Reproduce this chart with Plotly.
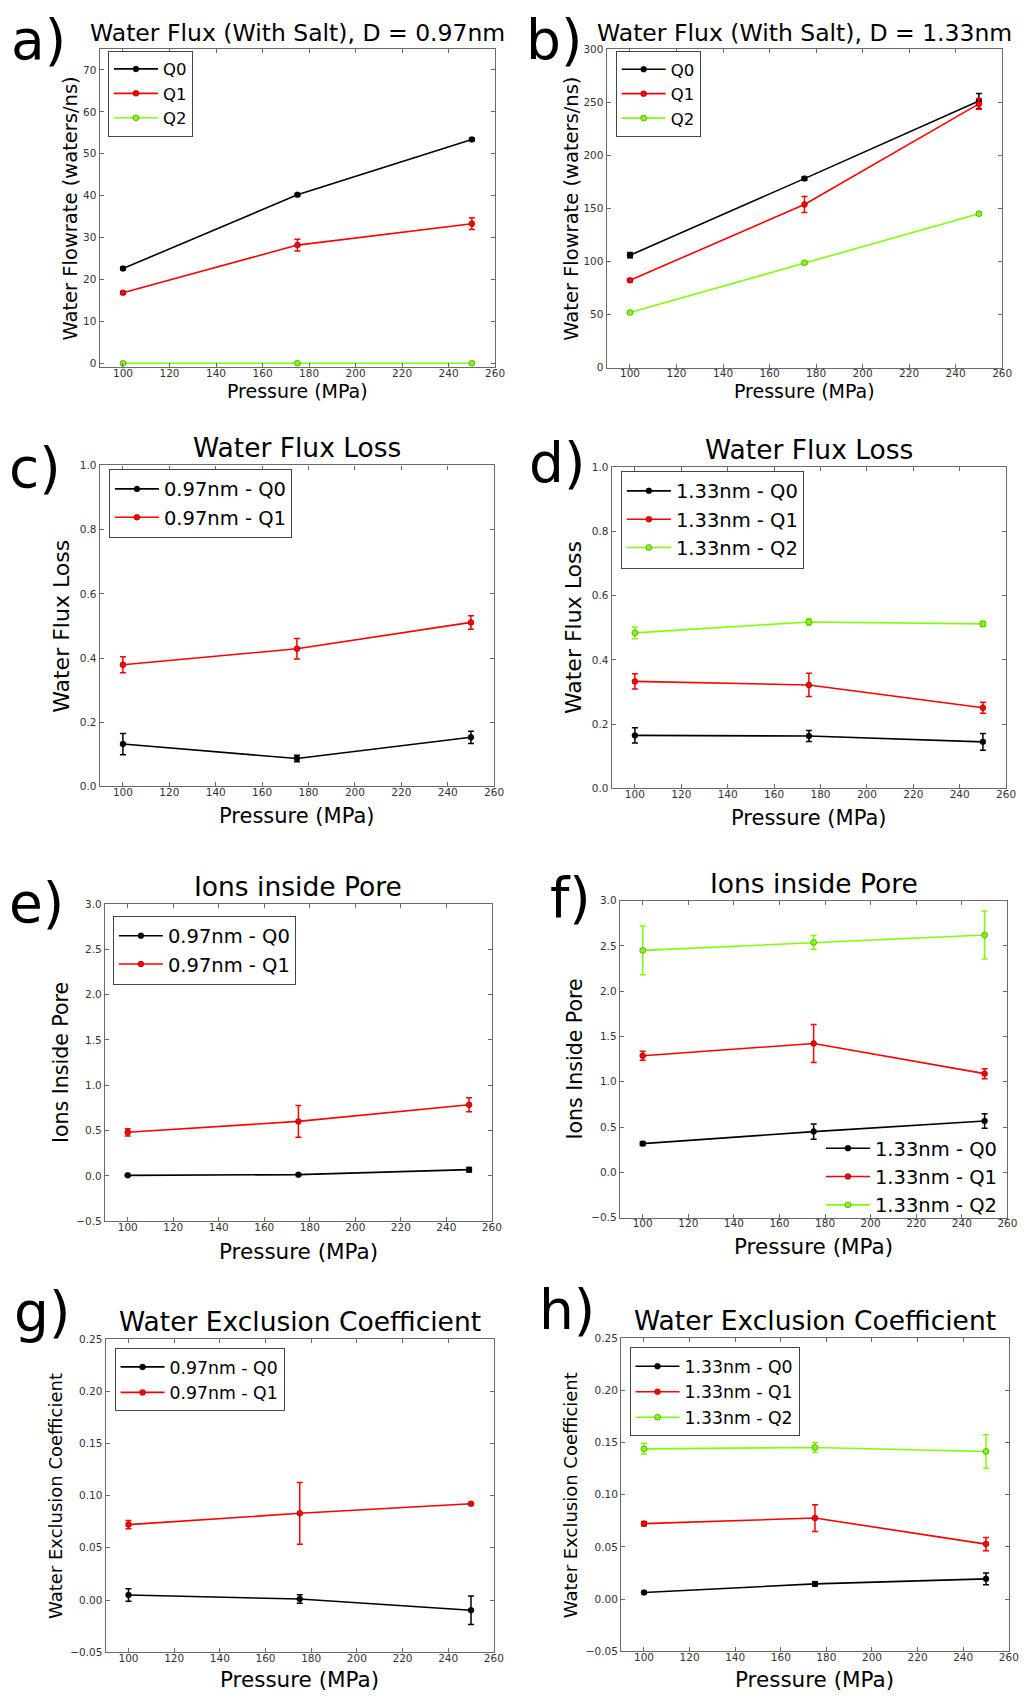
import plotly.graph_objects as go

W, H = 1027, 1698
FONT = "DejaVu Sans"

pressure = [100, 175, 250]

# a) water flux with salt, D = 0.97 nm
a_q0 = [22.6, 40.2, 53.4]
a_q0_err = [0.3, 0.3, 0.3]
a_q1 = [16.8, 28.2, 33.3]
a_q1_err = [0.3, 1.4, 1.4]
a_q2 = [0.0, 0.0, 0.0]
a_q2_err = [0.0, 0.0, 0.0]

# b) water flux with salt, D = 1.33 nm
b_q0 = [105.9, 178.0, 251.0]
b_q0_err = [2.5, 1.5, 7.0]
b_q1 = [82.3, 153.6, 248.3]
b_q1_err = [1.5, 7.5, 5.0]
b_q2 = [52.0, 98.8, 144.9]
b_q2_err = [1.0, 1.0, 1.5]

# c) water flux loss, 0.97 nm
c_q0 = [0.132, 0.087, 0.153]
c_q0_err = [0.033, 0.010, 0.019]
c_q1 = [0.379, 0.429, 0.511]
c_q1_err = [0.025, 0.032, 0.021]

# d) water flux loss, 1.33 nm
d_q0 = [0.165, 0.163, 0.145]
d_q0_err = [0.024, 0.017, 0.026]
d_q1 = [0.333, 0.322, 0.251]
d_q1_err = [0.024, 0.036, 0.017]
d_q2 = [0.484, 0.518, 0.512]
d_q2_err = [0.018, 0.010, 0.008]

# e) ions inside pore, 0.97 nm
e_q0 = [0.007, 0.015, 0.070]
e_q0_err = [0.010, 0.010, 0.025]
e_q1 = [0.482, 0.602, 0.785]
e_q1_err = [0.040, 0.175, 0.077]

# f) ions inside pore, 1.33 nm
f_q0 = [0.318, 0.450, 0.567]
f_q0_err = [0.020, 0.084, 0.080]
f_q1 = [1.288, 1.423, 1.090]
f_q1_err = [0.050, 0.210, 0.055]
f_q2 = [2.451, 2.539, 2.620]
f_q2_err = [0.270, 0.075, 0.265]

# g) water exclusion coefficient, 0.97 nm
g_q0 = [0.0048, 0.0010, -0.0098]
g_q0_err = [0.0060, 0.0040, 0.0136]
g_q1 = [0.0722, 0.0830, 0.0922]
g_q1_err = [0.0040, 0.0296, 0.0010]

# h) water exclusion coefficient, 1.33 nm
h_q0 = [0.0063, 0.0146, 0.0194]
h_q0_err = [0.0010, 0.0020, 0.0057]
h_q1 = [0.0723, 0.0777, 0.0527]
h_q1_err = [0.0020, 0.0128, 0.0063]
h_q2 = [0.1440, 0.1453, 0.1415]
h_q2_err = [0.0050, 0.0045, 0.0160]

COLORS = {"Q0": "#000000", "Q1": "#ff0000", "Q2": "#7fff00"}


def px_x(v):
    return v / W


def px_y(v):
    return 1 - v / H


# panel: letter, title, y label, y range, y dtick, tick format,
# plot box in pixels (left, right, top, bottom), series, legend settings
panels = [
    dict(letter="a)", title="Water Flux (With Salt), D = 0.97nm", tsize=23.5,
         ylabel="Water Flowrate (waters/ns)", ylsize=19.5, ylx=71,
         yr=[-1, 75], dt=10, fmt="d", box=(100.7, 500, 43.3, 364),
         series=[("Q0", a_q0, a_q0_err), ("Q1", a_q1, a_q1_err), ("Q2", a_q2, a_q2_err)],
         names=["Q0", "Q1", "Q2"], leg=(109, 45), lsize=16.5, lborder=True,
         label=(9, 0.5), xlsize=19, xly=388),
    dict(letter="b)", title="Water Flux (With Salt), D = 1.33nm", tsize=23.5,
         ylabel="Water Flowrate (waters/ns)", ylsize=19.5, ylx=577,
         yr=[0, 300], dt=50, fmt="d", box=(612.7, 1012, 43.3, 364.3),
         series=[("Q0", b_q0, b_q0_err), ("Q1", b_q1, b_q1_err), ("Q2", b_q2, b_q2_err)],
         names=["Q0", "Q1", "Q2"], leg=(621.7, 45.3), lsize=16.5, lborder=True,
         label=(529, 0.5), xlsize=19, xly=388),
    dict(letter="c)", title="Water Flux Loss", tsize=26.5,
         ylabel="Water Flux Loss", ylsize=22, ylx=62.5,
         yr=[0, 1], dt=0.2, fmt=".1f", box=(100.7, 499, 462.7, 786),
         series=[("Q0", c_q0, c_q0_err), ("Q1", c_q1, c_q1_err)],
         names=["0.97nm - Q0", "0.97nm - Q1"], leg=(110, 466), lsize=19.5, lborder=True,
         label=(7, 431), xlsize=21, xly=816),
    dict(letter="d)", title="Water Flux Loss", tsize=26.5,
         ylabel="Water Flux Loss", ylsize=22, ylx=579,
         yr=[0, 1], dt=0.2, fmt=".1f", box=(617.7, 1016, 464.3, 788),
         series=[("Q0", d_q0, d_q0_err), ("Q1", d_q1, d_q1_err), ("Q2", d_q2, d_q2_err)],
         names=["1.33nm - Q0", "1.33nm - Q1", "1.33nm - Q2"], leg=(627, 468), lsize=19.5,
         lborder=True, label=(532, 426), xlsize=21, xly=818),
    dict(letter="e)", title="Ions inside Pore", tsize=26.5,
         ylabel="Ions Inside Pore", ylsize=20.5, ylx=61,
         yr=[-0.5, 3], dt=0.5, fmt=".1f", box=(106, 496.7, 904.3, 1224),
         series=[("Q0", e_q0, e_q0_err), ("Q1", e_q1, e_q1_err)],
         names=["0.97nm - Q0", "0.97nm - Q1"], leg=(114, 916), lsize=19.5, lborder=True,
         label=(7, 869), xlsize=21.5, xly=1255),
    dict(letter="f)", title="Ions inside Pore", tsize=26.5,
         ylabel="Ions Inside Pore", ylsize=20.5, ylx=581,
         yr=[-0.5, 3], dt=0.5, fmt=".1f", box=(626, 1017.3, 901, 1220.3),
         series=[("Q0", f_q0, f_q0_err), ("Q1", f_q1, f_q1_err), ("Q2", f_q2, f_q2_err)],
         names=["1.33nm - Q0", "1.33nm - Q1", "1.33nm - Q2"], leg=(829, 1131), lsize=19.5,
         lborder=False, label=(553, 864), xlsize=21.5, xly=1250),
    dict(letter="g)", title="Water Exclusion Coefficient", tsize=26.5,
         ylabel="Water Exclusion Coefficient", ylsize=18, ylx=56,
         yr=[-0.05, 0.25], dt=0.05, fmt=".2f", box=(106.7, 498.7, 1342.3, 1658),
         series=[("Q0", g_q0, g_q0_err), ("Q1", g_q1, g_q1_err)],
         names=["0.97nm - Q0", "0.97nm - Q1"], leg=(115.7, 1351.7), lsize=17.3, lborder=True,
         label=(12, 1281), xlsize=21.5, xly=1686),
    dict(letter="h)", title="Water Exclusion Coefficient", tsize=26.5,
         ylabel="Water Exclusion Coefficient", ylsize=18, ylx=576,
         yr=[-0.05, 0.25], dt=0.05, fmt=".2f", box=(627.3, 1018.7, 1341.7, 1657),
         series=[("Q0", h_q0, h_q0_err), ("Q1", h_q1, h_q1_err), ("Q2", h_q2, h_q2_err)],
         names=["1.33nm - Q0", "1.33nm - Q1", "1.33nm - Q2"], leg=(635.7, 1351), lsize=17.3,
         lborder=True, label=(542, 1279), xlsize=21.5, xly=1686),
]

XLABEL_LIFT = 3   # pixels the x labels are raised

fig = go.Figure()
annotations = []
layout = dict(
    width=W, height=H,
    margin=dict(l=0, r=0, t=0, b=0),
    paper_bgcolor="white", plot_bgcolor="white",
    font=dict(family=FONT, color="#000000"),
)

axis_common = dict(
    showgrid=False, zeroline=False, showline=True, mirror="ticks",
    linecolor="#6a6a6a", linewidth=1.3, ticks="inside", ticklen=4,
    tickwidth=1, tickcolor="#6a6a6a",
    tickfont=dict(family=FONT, size=10.5, color="#333333"),
)

for i, p in enumerate(panels):
    n = i + 1
    sfx = "" if n == 1 else str(n)
    xa, ya = "x" + sfx, "y" + sfx
    leg_id = "legend" + sfx
    left, right, top, bottom = p["box"]

    layout["xaxis" + sfx] = dict(
        axis_common, domain=[px_x(left), px_x(right)], range=[90, 260],
        tick0=100, dtick=20, anchor=ya, ticklabelstandoff=-4,
    )
    layout["yaxis" + sfx] = dict(
        axis_common, domain=[px_y(bottom), px_y(top)], range=p["yr"],
        tick0=0, dtick=p["dt"], tickformat=p["fmt"], anchor=xa,
    )

    for (key, vals, errs), name in zip(p["series"], p["names"]):
        col = COLORS[key]
        fig.add_trace(go.Scatter(
            x=pressure, y=vals, name=name, mode="lines+markers",
            xaxis=xa, yaxis=ya, legend=leg_id,
            line=dict(color=col, width=1.6),
            marker=dict(color=col, size=6, line=dict(color="rgba(0,0,0,0.55)", width=0.6)),
            error_y=dict(type="data", array=errs, visible=True, color=col,
                         thickness=1.5, width=3),
        ))

    lx, ly = p["leg"]
    layout[leg_id] = dict(
        x=px_x(lx), y=px_y(ly), xanchor="left", yanchor="top",
        xref="paper", yref="paper",
        bgcolor="white" if p["lborder"] else "rgba(0,0,0,0)",
        bordercolor="#444444" if p["lborder"] else "rgba(0,0,0,0)",
        borderwidth=1 if p["lborder"] else 0,
        font=dict(family=FONT, size=p["lsize"], color="#000000"),
        itemwidth=44, tracegroupgap=0,
    )

    cx = (left + right) / 2
    cy = (top + bottom) / 2
    # title above the plot box
    annotations.append(dict(
        text=p["title"], x=px_x(cx), y=px_y(top), xref="paper", yref="paper",
        xanchor="center", yanchor="bottom", showarrow=False,
        font=dict(family=FONT, size=p["tsize"], color="#000000"),
    ))
    # x axis label
    annotations.append(dict(
        text="Pressure (MPa)", x=px_x(cx),
        y=px_y(p["xly"] + 0.12 * p["xlsize"] - XLABEL_LIFT),
        xref="paper", yref="paper", xanchor="center", yanchor="middle",
        showarrow=False, font=dict(family=FONT, size=p["xlsize"], color="#000000"),
    ))
    # y axis label
    annotations.append(dict(
        text=p["ylabel"], x=px_x(p["ylx"]), y=px_y(cy), xref="paper", yref="paper",
        xanchor="center", yanchor="middle", textangle=-90, showarrow=False,
        font=dict(family=FONT, size=p["ylsize"], color="#000000"),
    ))
    # panel letter, anchored by the top of its text box
    lbx, lby = p["label"]
    annotations.append(dict(
        text=p["letter"], x=px_x(lbx), y=px_y(lby), xref="paper", yref="paper",
        xanchor="left", yanchor="top", showarrow=False,
        font=dict(family=FONT, size=55, color="#000000"),
    ))

layout["annotations"] = annotations
fig.update_layout(**layout)
fig.write_html("out.html")
